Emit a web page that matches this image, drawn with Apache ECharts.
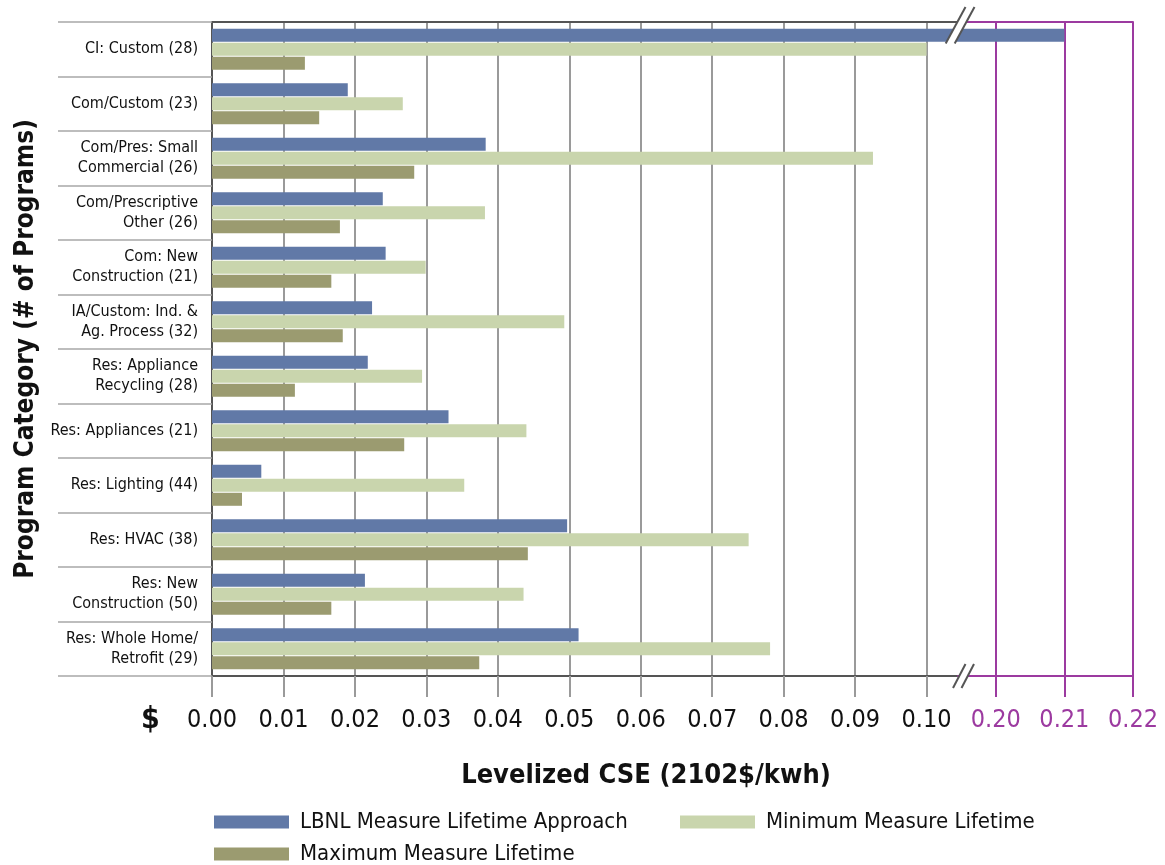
<!DOCTYPE html>
<html>
<head>
<meta charset="utf-8">
<script src="https://cdn.jsdelivr.net/npm/echarts@6/dist/echarts.min.js"></script>
<style>
html,body{margin:0;padding:0;background:#fff;}
#chart{width:1165px;height:865px;}
</style>
</head>
<body>
<div id="chart"></div>
<script>
const categories = [
  'CI: Custom (28)',
  'Com/Custom (23)',
  'Com/Pres: Small\nCommercial (26)',
  'Com/Prescriptive\nOther (26)',
  'Com: New\nConstruction (21)',
  'IA/Custom: Ind. &\nAg. Process (32)',
  'Res: Appliance\nRecycling (28)',
  'Res: Appliances (21)',
  'Res: Lighting (44)',
  'Res: HVAC (38)',
  'Res: New\nConstruction (50)',
  'Res: Whole Home/\nRetrofit (29)'
];
const lbnl    = [0.210, 0.0190, 0.0383, 0.0239, 0.0243, 0.0224, 0.0218, 0.0331, 0.0069, 0.0497, 0.0214, 0.0513];
const minimum = [0.100, 0.0267, 0.0925, 0.0382, 0.0299, 0.0493, 0.0294, 0.0440, 0.0353, 0.0751, 0.0436, 0.0781];
const maximum = [0.0130, 0.0150, 0.0283, 0.0179, 0.0167, 0.0183, 0.0116, 0.0269, 0.0042, 0.0442, 0.0167, 0.0374];
const ticksMain  = [0.00, 0.01, 0.02, 0.03, 0.04, 0.05, 0.06, 0.07, 0.08, 0.09, 0.10];
const ticksBreak = [0.20, 0.21, 0.22];
const seriesNames = ['LBNL Measure Lifetime Approach', 'Minimum Measure Lifetime', 'Maximum Measure Lifetime'];

const FONT = "'Liberation Sans Narrow', 'Arial Narrow', 'DejaVu Sans Condensed', sans-serif";
const C_BLUE = '#6179a7', C_LGREEN = '#c9d5ad', C_OLIVE = '#9b9b70';
const C_PURPLE = '#9c3aa0', C_GRID = '#9a9a9a', C_AXIS = '#555555';
const MAIN_MAX = 0.1044, BREAK_MIN = 0.1945, BREAK_MAX = 0.22;

const chart = echarts.init(document.getElementById('chart'), null, {renderer: 'canvas'});

function bars(gridIdx) {
  const data = [lbnl, minimum, maximum];
  const colors = [C_BLUE, C_LGREEN, C_OLIVE];
  return data.map((d, i) => ({
    name: seriesNames[i],
    type: 'bar',
    xAxisIndex: gridIdx,
    yAxisIndex: gridIdx,
    data: d,
    barWidth: 13,
    barGap: '8%',
    clip: true,
    itemStyle: {color: colors[i]},
    emphasis: {disabled: true},
    animation: false
  }));
}

function legend(name, left, top) {
  return {
    data: [name], left: left, top: top,
    itemWidth: 75, itemHeight: 13, icon: 'rect',
    textStyle: {fontFamily: FONT, fontSize: 22, color: '#111', padding: [0, 0, 0, 6]},
    selectedMode: false
  };
}

// grids 2 and 3 are taller copies of the plot area (22..697) that only carry the
// vertical lines, so each grid line continues below the axis as its tick mark
function lineAxis(gridIdx, min, max, ticks, color) {
  return {
    type: 'value', gridIndex: gridIdx, position: 'bottom', min: min, max: max,
    axisLine: {show: false},
    axisTick: {show: false, customValues: ticks},
    axisLabel: {show: false, customValues: ticks},
    splitLine: {show: true, lineStyle: {color: color, width: 2}}
  };
}

const option = {
  backgroundColor: '#fff',
  animation: false,
  title: {
    text: '$', left: 136, top: 700,
    textStyle: {fontFamily: FONT, fontWeight: 'bold', fontSize: 30, color: '#111'}
  },
  grid: [
    {left: 212, top: 22, width: 746, height: 654},
    {left: 958, top: 22, width: 175, height: 654},
    {left: 212, top: 22, width: 746, height: 675},
    {left: 958, top: 22, width: 175, height: 675}
  ],
  xAxis: [
    {
      type: 'value', gridIndex: 0, position: 'bottom', min: 0, max: MAIN_MAX,
      axisLine: {show: true, lineStyle: {color: C_AXIS, width: 2}},
      axisTick: {show: true, length: 21, customValues: ticksMain, lineStyle: {color: C_GRID, width: 2}},
      axisLabel: {customValues: ticksMain, margin: 32, fontFamily: FONT, fontSize: 25, color: '#111',
                  formatter: v => v.toFixed(2)},
      splitLine: {show: false},
      name: 'Levelized CSE (2102$/kwh)', nameLocation: 'middle', nameGap: 86,
      nameTextStyle: {fontFamily: FONT, fontWeight: 'bold', fontSize: 27, color: '#111', padding: [0, 0, 0, 122]}
    },
    {
      type: 'value', gridIndex: 1, position: 'bottom', min: BREAK_MIN, max: BREAK_MAX,
      axisLine: {show: true, lineStyle: {color: C_PURPLE, width: 2}},
      axisTick: {show: true, length: 21, customValues: ticksBreak, lineStyle: {color: C_PURPLE, width: 2}},
      axisLabel: {customValues: ticksBreak, margin: 32, fontFamily: FONT, fontSize: 25, color: C_PURPLE,
                  formatter: v => v.toFixed(2)},
      splitLine: {show: false}
    },
    lineAxis(2, 0, MAIN_MAX, ticksMain, C_GRID),
    lineAxis(3, BREAK_MIN, BREAK_MAX, ticksBreak, C_PURPLE),
    {
      type: 'value', gridIndex: 0, position: 'top', min: 0, max: MAIN_MAX,
      axisLine: {show: true, lineStyle: {color: C_AXIS, width: 2}},
      axisTick: {show: false}, axisLabel: {show: false}, splitLine: {show: false}
    },
    {
      type: 'value', gridIndex: 1, position: 'top', min: BREAK_MIN, max: BREAK_MAX,
      axisLine: {show: true, lineStyle: {color: C_PURPLE, width: 2}},
      axisTick: {show: false}, axisLabel: {show: false}, splitLine: {show: false}
    }
  ],
  yAxis: [
    {
      type: 'category', gridIndex: 0, data: categories, inverse: true,
      axisLine: {show: true, lineStyle: {color: C_AXIS, width: 2}},
      axisTick: {show: true, length: 154, lineStyle: {color: '#a8a8a8', width: 1.5}},
      axisLabel: {margin: 14, fontFamily: FONT, fontSize: 16, lineHeight: 20, color: '#111', align: 'right'},
      splitLine: {show: false},
      name: 'Program Category (# of Programs)', nameLocation: 'middle', nameRotate: 90, nameGap: 168,
      nameTextStyle: {fontFamily: FONT, fontWeight: 'bold', fontSize: 26, color: '#111'}
    },
    {
      type: 'category', gridIndex: 1, data: categories, inverse: true,
      axisLine: {show: false}, axisTick: {show: false}, axisLabel: {show: false}, splitLine: {show: false}
    },
    {type: 'value', gridIndex: 2, min: 0, max: 1, show: false},
    {type: 'value', gridIndex: 3, min: 0, max: 1, show: false}
  ],
  legend: [
    legend(seriesNames[0], 209, 806),
    legend(seriesNames[1], 675, 806),
    legend(seriesNames[2], 209, 838)
  ],
  series: bars(0).concat(bars(1)),
  graphic: [
    {type: 'polygon', z: 100, shape: {points: [[945.7, 43.5], [965.5, 7], [974.5, 7], [954.7, 43.5]]},
     style: {fill: '#fff'}},
    {type: 'line', z: 101, shape: {x1: 945.7, y1: 43.5, x2: 965.5, y2: 7}, style: {stroke: C_AXIS, lineWidth: 2}},
    {type: 'line', z: 101, shape: {x1: 954.7, y1: 43.5, x2: 974.5, y2: 7}, style: {stroke: C_AXIS, lineWidth: 2}},
    {type: 'polygon', z: 100, shape: {points: [[953, 688], [965.5, 664], [974, 664], [961.5, 688]]},
     style: {fill: '#fff'}},
    {type: 'line', z: 101, shape: {x1: 953, y1: 688, x2: 965.5, y2: 664}, style: {stroke: C_AXIS, lineWidth: 2}},
    {type: 'line', z: 101, shape: {x1: 961.5, y1: 688, x2: 974, y2: 664}, style: {stroke: C_AXIS, lineWidth: 2}}
  ]
};
chart.setOption(option);
</script>
</body>
</html>
